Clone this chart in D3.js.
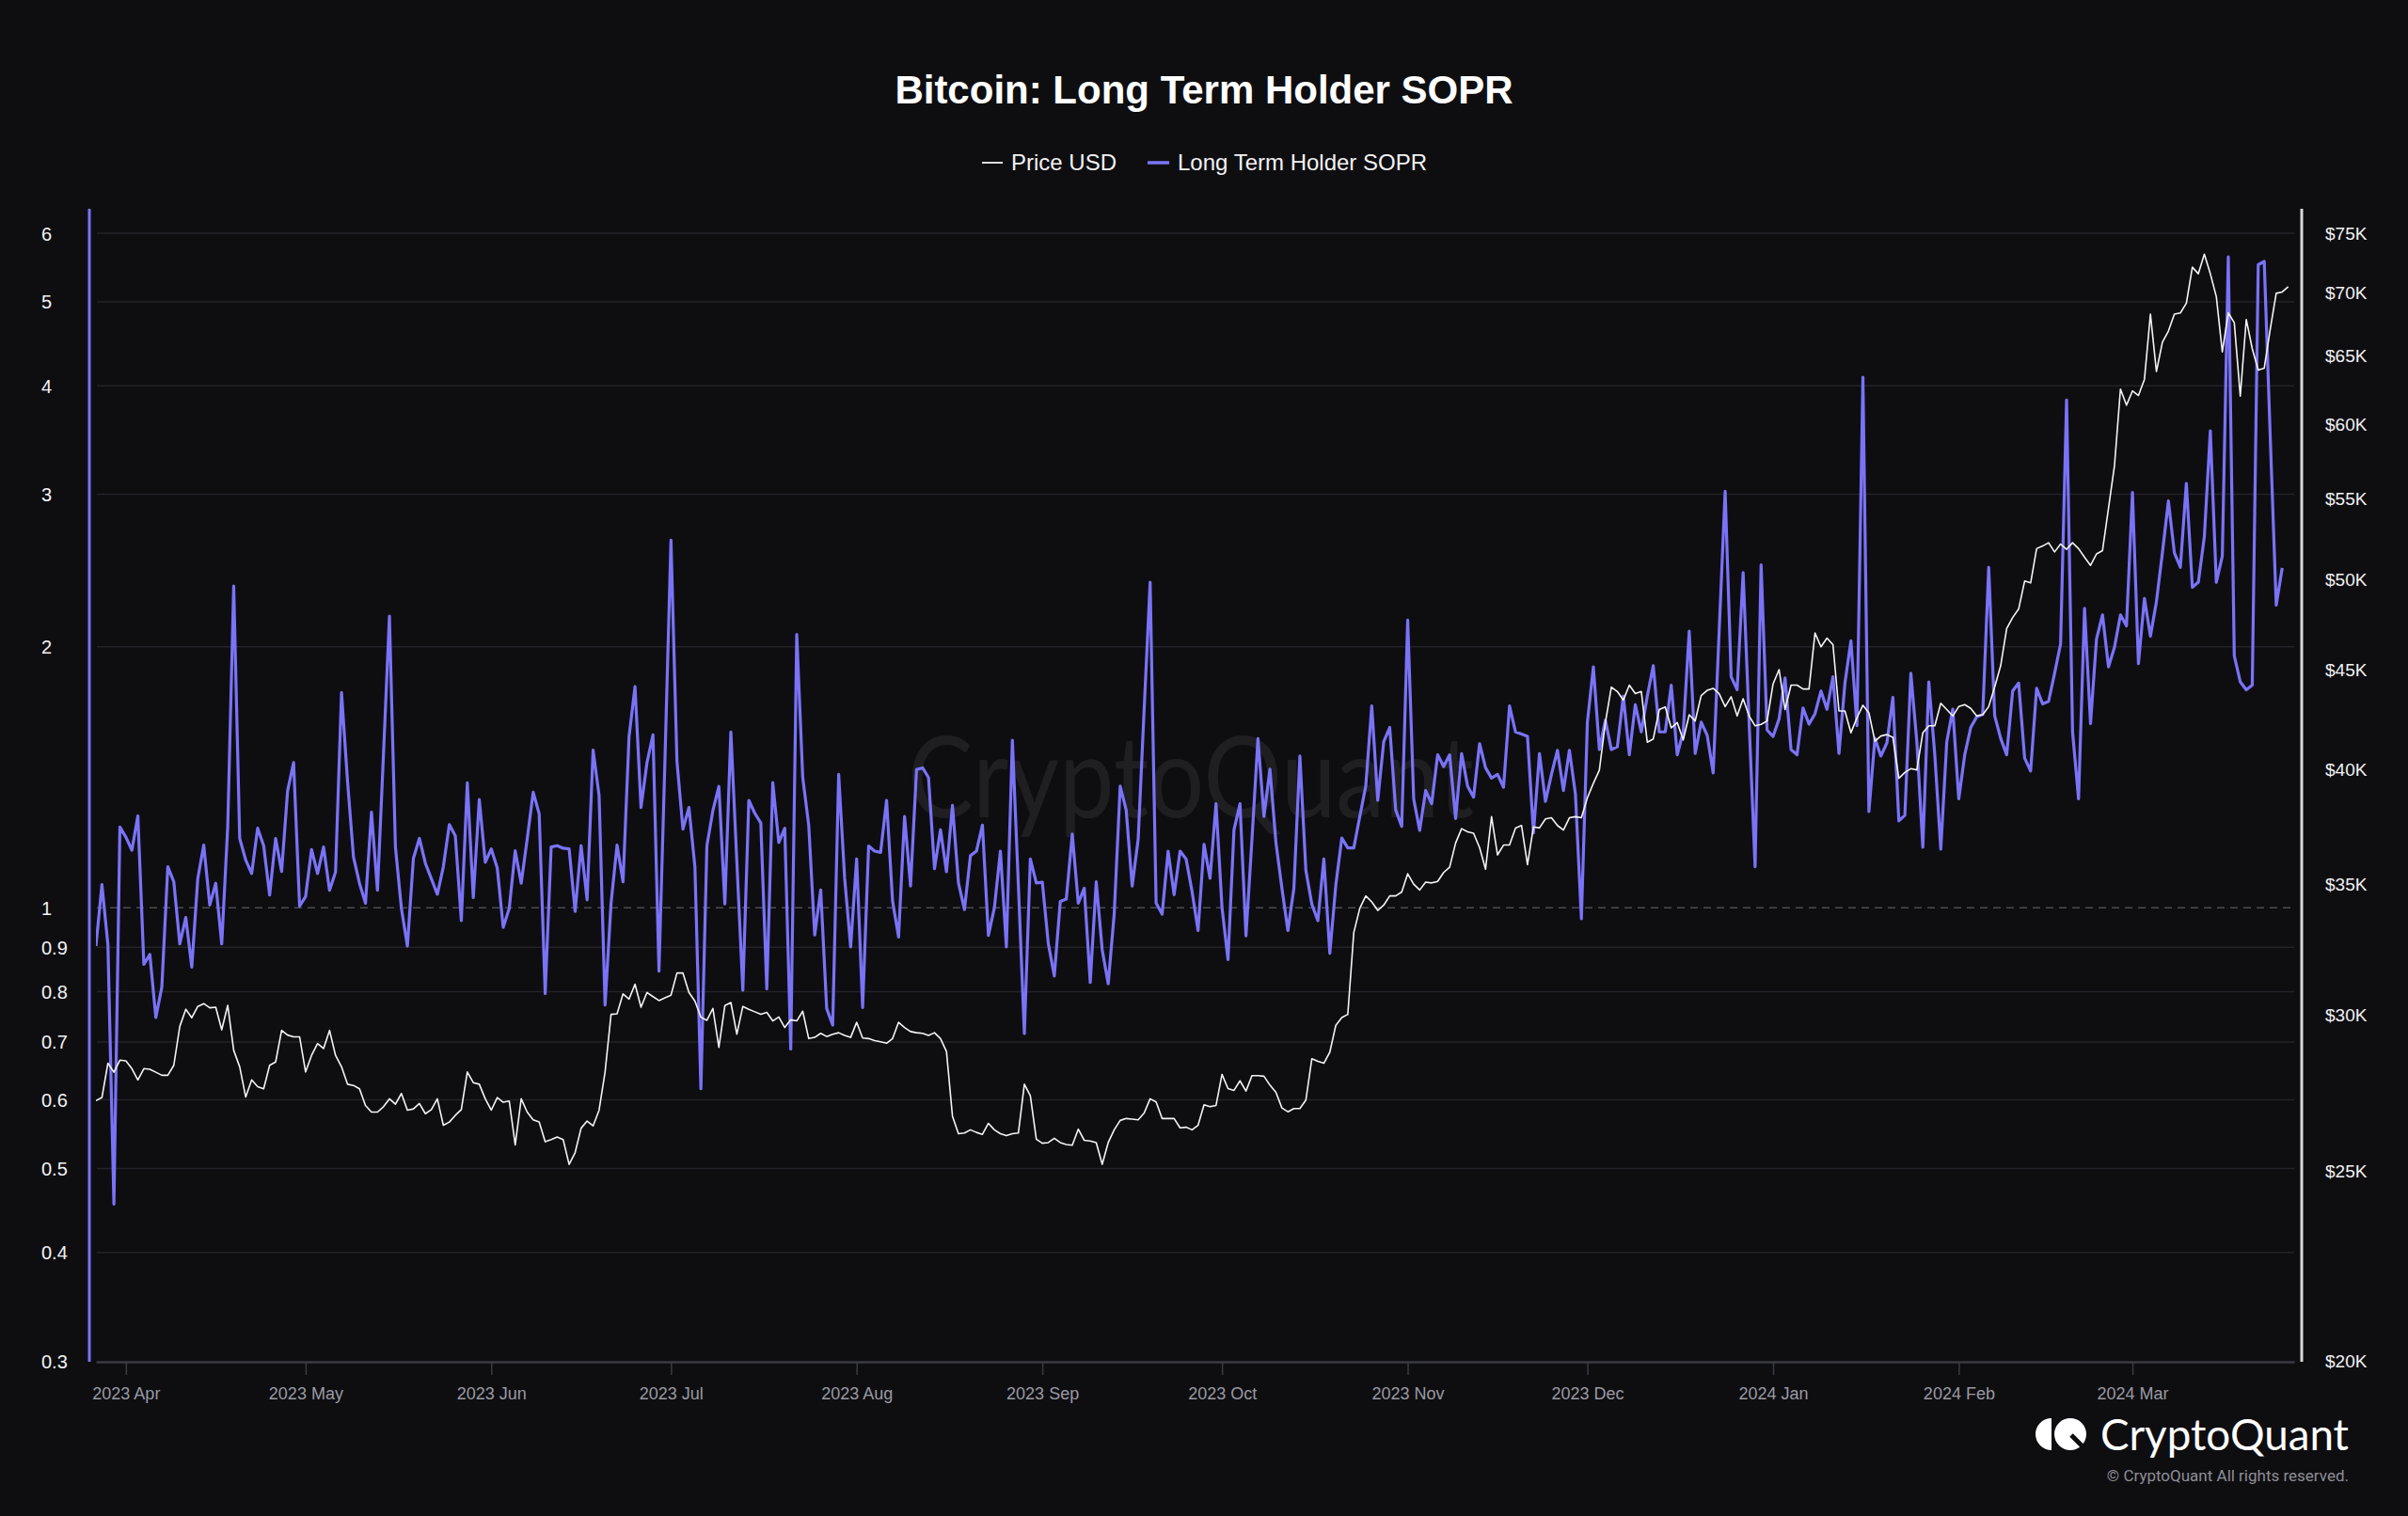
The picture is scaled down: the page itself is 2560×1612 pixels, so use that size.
<!DOCTYPE html>
<html><head><meta charset="utf-8">
<script src="https://cdn.jsdelivr.net/npm/d3@7"></script>
<style>
html,body{margin:0;padding:0;background:#0e0e11;}
svg{display:block;}
</style></head><body>
<svg id="chart" width="2560" height="1612"></svg>
<script>
// ---------------- DATA ----------------
const titleText = "Bitcoin: Long Term Holder SOPR";
const seriesNames = ["Price USD", "Long Term Holder SOPR"];
const startDate = "2023-03-27"; // first daily observation
const soprTicks = [0.3, 0.4, 0.5, 0.6, 0.7, 0.8, 0.9, 1, 2, 3, 4, 5, 6];
const priceTicks = [20000, 25000, 30000, 35000, 40000, 45000, 50000, 55000, 60000, 65000, 70000, 75000];

// Long Term Holder SOPR, daily from 2023-03-27
const soprValues = [
0.903,1.063,0.906,0.455,1.239,1.206,1.165,1.276,0.860,0.883,0.747,0.810,1.115,1.071,0.908,0.974,0.854,1.080,1.181,1.007,
1.067,0.908,1.239,2.351,1.202,1.135,1.095,1.235,1.179,1.034,1.202,1.101,1.364,1.470,1.004,1.030,1.167,1.095,1.175,1.047,
1.099,1.771,1.400,1.144,1.067,1.012,1.289,1.047,1.50,2.170,1.175,0.998,0.903,1.140,1.202,1.125,1.080,1.036,1.115,1.247,
1.210,0.966,1.393,1.027,1.333,1.128,1.169,1.111,0.949,0.998,1.163,1.067,1.200,1.359,1.283,0.796,1.175,1.179,1.171,1.169,
0.990,1.179,1.021,1.520,1.347,0.772,1.012,1.181,1.071,1.575,1.799,1.305,1.470,1.583,0.845,1.483,2.655,1.476,1.232,1.305,
1.115,0.618,1.179,1.294,1.380,1.010,1.595,1.13,0.803,1.330,1.285,1.252,0.806,1.394,1.189,1.235,0.687,2.067,1.413,1.245,
0.930,1.048,0.765,0.732,1.425,1.081,0.901,1.138,0.767,1.178,1.162,1.158,1.330,1.017,0.925,1.274,1.059,1.443,1.450,1.413,
1.109,1.230,1.100,1.312,1.068,0.995,1.148,1.162,1.245,0.929,1.000,1.162,0.901,1.560,1.062,0.716,1.138,1.068,1.07,0.909,
0.834,1.017,1.023,1.216,1.012,1.053,0.820,1.071,0.894,0.817,0.983,1.381,1.296,1.059,1.199,1.694,2.374,1.012,0.983,1.162,
1.035,1.162,1.138,1.044,0.941,1.183,1.081,1.318,1.000,0.871,1.230,1.318,0.928,1.199,1.567,1.274,1.445,1.189,1.053,0.941,
1.053,1.496,1.104,1.009,0.966,1.138,0.886,1.062,1.203,1.172,1.172,1.274,1.381,1.709,1.330,1.554,1.614,1.296,1.241,2.147,
1.335,1.228,1.365,1.318,1.501,1.455,1.501,1.267,1.506,1.381,1.341,1.546,1.450,1.411,1.425,1.377,1.709,1.595,1.586,1.576,
1.220,1.506,1.326,1.425,1.519,1.365,1.519,1.353,0.971,1.637,1.896,1.522,1.645,1.522,1.533,1.754,1.501,1.715,1.595,1.754,
1.902,1.595,1.595,1.806,1.501,1.595,2.085,1.506,1.637,1.581,1.430,2.085,3.024,1.847,1.784,2.436,1.637,1.115,2.487,1.603,
1.576,1.651,1.841,1.522,1.501,1.700,1.628,1.674,1.778,1.694,1.847,1.506,1.816,2.032,1.622,4.093,1.291,1.568,1.496,1.549,
1.748,1.259,1.278,1.864,1.554,1.174,1.822,1.501,1.168,1.554,1.694,1.335,1.501,1.614,1.660,1.671,2.470,1.665,1.568,1.501,
1.778,1.816,1.488,1.438,1.791,1.718,1.730,1.864,2.015,3.853,1.595,1.335,2.215,1.631,2.042,2.177,1.896,1.997,2.177,2.114,
3.013,1.912,2.274,2.057,2.254,2.567,2.946,2.567,2.470,3.087,2.342,2.374,2.679,3.550,2.374,2.544,5.634,1.952,1.822,1.784,
1.806,5.518,5.567,3.5,2.234,2.466
];

// Price USD, daily from 2023-03-27
const priceValues = [
27130,27230,28350,28050,28450,28430,28170,27800,28170,28150,28050,27950,27950,28280,29600,30200,29900,30300,30400,30250,
30270,29480,30340,28780,28230,27250,27800,27580,27510,28280,28390,29460,29300,29240,29240,28060,28610,29010,28840,29460,
28610,28230,27660,27620,27510,26980,26770,26770,26940,27190,27020,27360,26830,26870,27040,26720,26850,27190,26360,26460,
26670,26850,28060,27710,27660,27190,26830,27230,27080,27120,25760,27190,26770,26530,26460,25860,25920,26000,25920,25180,
25530,26270,26490,26340,26830,28060,30020,30040,30750,30560,31100,30270,30800,30650,30510,30610,30700,31510,31510,30800,
30490,29920,29810,30230,28880,30330,30440,29330,30300,30200,30110,30020,30090,29790,29930,29560,29830,29790,30130,29180,
29220,29360,29250,29330,29380,29290,29220,29740,29200,29180,29110,29070,29020,29180,29740,29560,29420,29380,29360,29290,
29380,29180,28740,26640,26100,26120,26220,26140,26080,26420,26220,26100,26040,26100,26120,27660,27290,25930,25810,25830,
25960,25830,25770,25750,26240,25900,25880,25830,25180,25830,26220,26510,26570,26550,26530,26740,27190,27090,26570,26570,
26570,26280,26300,26220,26360,27000,26940,26980,27980,27520,27460,27770,27440,27940,27940,27920,27630,27400,26900,26780,
26880,26880,27150,28500,28410,28350,28720,29640,29910,30020,33040,33990,34490,34250,33910,34120,34490,34490,34650,35400,
34970,34730,35050,35020,35080,35450,35670,36700,37320,37180,37120,36500,35590,37850,36190,36610,36610,37350,37460,35780,
37400,37350,37750,37800,37460,37260,37800,37850,37800,38700,39360,39970,42260,44060,43830,43390,44160,43720,43830,41300,
41460,42910,43040,42000,42260,41410,42650,42340,43620,43890,43990,43720,43060,43560,42590,43460,42590,42100,42170,42340,
44220,44970,42910,44160,44160,43960,43960,46940,46190,46660,46300,42840,42840,41760,42500,43130,42750,41350,41600,41670,
41540,39590,39860,40040,39980,41760,42100,42100,43230,42910,42590,43060,43160,42970,42590,42650,43060,44060,45180,47180,
47800,48280,49890,49780,51820,51980,52180,51620,52100,51780,52180,51820,51300,50810,51500,51700,54340,57120,62480,61310,
62340,62010,63190,68210,63780,66010,66870,68210,68310,69100,72070,71520,73180,71520,69630,65260,68310,67530,61960,67790,
65510,63880,64030,67020,69900,70010,70440
];

// ---------------- STYLE / LAYOUT ----------------
const W = 2560, H = 1612;
const BG = "#0e0e11";
const PURPLE = "#7a73f8";
const FONT = "'Liberation Sans', Arial, Helvetica, sans-serif";
const plot = {left: 102, right: 2439, top: 222, bottom: 1447};

const svg = d3.select("#chart");
svg.append("rect").attr("width", W).attr("height", H).attr("fill", BG);

const t0 = d3.utcParse("%Y-%m-%d")(startDate);
const x = d3.scaleUtc().domain([t0, d3.utcDay.offset(t0, 367)]).range([plot.left, plot.right]);
const yL = d3.scaleLog().domain([0.3, 6]).range([1447, 248]);
const yR = d3.scaleLog().domain([20000, 75000]).range([1447, 248]);

const sopr = soprValues.map((v, i) => ({d: d3.utcDay.offset(t0, i), v}));
const price = priceValues.map((v, i) => ({d: d3.utcDay.offset(t0, i), v}));

// watermark
svg.append("text")
  .attr("x", 1266).attr("y", 869)
  .attr("text-anchor", "middle")
  .attr("font-family", "Lato, 'Open Sans', sans-serif")
  .attr("font-size", 120)
  .attr("textLength", 602).attr("lengthAdjust", "spacingAndGlyphs")
  .attr("fill", "#ffffff").attr("fill-opacity", 0.07)
  .text("CryptoQuant");

// gridlines
const grid = svg.append("g");
grid.selectAll("line.g").data(soprTicks.filter(t => t !== 1 && t !== 0.3)).join("line")
  .attr("x1", plot.left + 1).attr("x2", plot.right)
  .attr("y1", d => yL(d)).attr("y2", d => yL(d))
  .attr("stroke", "#232328").attr("stroke-width", 1.5);
grid.append("line")
  .attr("x1", plot.left + 1).attr("x2", plot.right)
  .attr("y1", yL(1)).attr("y2", yL(1))
  .attr("stroke", "#4a4a52").attr("stroke-width", 1.5).attr("stroke-dasharray", "8,6");

// x axis
const xAxis = d3.axisBottom(x)
  .ticks(d3.utcMonth.every(1))
  .tickFormat(d3.utcFormat("%Y %b"))
  .tickSize(14).tickSizeOuter(0).tickPadding(13);
const gx = svg.append("g").attr("transform", `translate(0,${plot.bottom + 1})`).call(xAxis);
gx.select(".domain").attr("stroke", "#3a3a42").attr("stroke-width", 2.5);
gx.selectAll(".tick line").attr("stroke", "#3a3a42").attr("stroke-width", 1.5);
gx.selectAll(".tick text").attr("fill", "#9a9aa2").attr("font-size", 18).attr("font-family", FONT);

// left axis
const gl = svg.append("g").attr("transform", "translate(95,0)")
  .call(d3.axisLeft(yL).tickValues(soprTicks).tickFormat(d => String(d)).tickSize(0));
gl.select(".domain").remove();
gl.selectAll(".tick text").attr("x", -51).attr("dy", "0.35em").attr("text-anchor", "start")
  .attr("fill", "#f2f2f4").attr("font-size", 20).attr("font-family", FONT);
svg.append("line").attr("x1", 95).attr("x2", 95).attr("y1", plot.top).attr("y2", plot.bottom + 1)
  .attr("stroke", PURPLE).attr("stroke-width", 3);

// right axis
const gr = svg.append("g").attr("transform", "translate(2447,0)")
  .call(d3.axisRight(yR).tickValues(priceTicks).tickFormat(d => "$" + (d / 1000) + "K").tickSize(0));
gr.select(".domain").remove();
gr.selectAll(".tick text").attr("x", 25).attr("dy", "0.35em").attr("text-anchor", "start")
  .attr("fill", "#f2f2f4").attr("font-size", 19).attr("font-family", FONT);
svg.append("line").attr("x1", 2447).attr("x2", 2447).attr("y1", plot.top).attr("y2", plot.bottom + 1)
  .attr("stroke", "#d8d8dc").attr("stroke-width", 3);

// clip
svg.append("clipPath").attr("id", "clip").append("rect")
  .attr("x", plot.left).attr("y", plot.top).attr("width", plot.right - plot.left).attr("height", plot.bottom - plot.top);

const lines = svg.append("g").attr("clip-path", "url(#clip)");
lines.append("path").datum(sopr)
  .attr("d", d3.line().x(d => x(d.d)).y(d => yL(d.v)))
  .attr("fill", "none").attr("stroke", PURPLE).attr("stroke-width", 3.2).attr("stroke-linejoin", "round");
lines.append("path").datum(price)
  .attr("d", d3.line().x(d => x(d.d)).y(d => yR(d.v)))
  .attr("fill", "none").attr("stroke", "#f4f4f6").attr("stroke-width", 1.6).attr("stroke-linejoin", "round");

// title
svg.append("text").attr("x", 1280).attr("y", 110).attr("text-anchor", "middle")
  .attr("font-family", FONT).attr("font-weight", "bold").attr("font-size", 42).attr("fill", "#ffffff")
  .text(titleText);

// legend
const legend = svg.append("g");
legend.append("line").attr("x1", 1044).attr("x2", 1066).attr("y1", 173).attr("y2", 173)
  .attr("stroke", "#dcdce0").attr("stroke-width", 2);
legend.append("text").attr("x", 1075).attr("y", 181).attr("font-family", FONT).attr("font-size", 24)
  .attr("fill", "#f2f2f4").text(seriesNames[0]);
legend.append("line").attr("x1", 1220).attr("x2", 1243).attr("y1", 173).attr("y2", 173)
  .attr("stroke", PURPLE).attr("stroke-width", 3.5);
legend.append("text").attr("x", 1252).attr("y", 181).attr("font-family", FONT).attr("font-size", 24)
  .attr("fill", "#f2f2f4").text(seriesNames[1]);

// logo
const logo = svg.append("g");
logo.append("path").attr("d", "M2181,1508 A17,17 0 0 0 2181,1542 Z").attr("fill", "#ffffff");
logo.append("circle").attr("cx", 2201).attr("cy", 1525).attr("r", 17).attr("fill", "#ffffff");
logo.append("line").attr("x1", 2202).attr("y1", 1526).attr("x2", 2216).attr("y2", 1540)
  .attr("stroke", BG).attr("stroke-width", 5);
logo.append("text").attr("x", 2233).attr("y", 1542)
  .attr("font-family", "Lato, 'Open Sans', sans-serif").attr("font-size", 46)
  .attr("textLength", 264).attr("lengthAdjust", "spacingAndGlyphs")
  .attr("fill", "#ffffff").text("CryptoQuant");
svg.append("text").attr("x", 2497).attr("y", 1575).attr("text-anchor", "end")
  .attr("font-family", "Roboto, " + FONT).attr("font-size", 17).attr("fill", "#8e8e96")
  .text("© CryptoQuant All rights reserved.");
</script>
</body></html>
